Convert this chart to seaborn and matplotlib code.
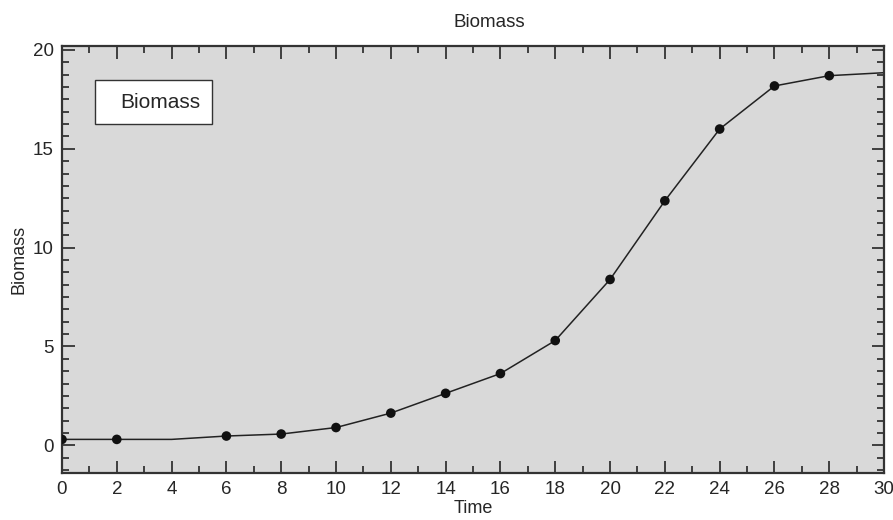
import seaborn as sns
import matplotlib.pyplot as plt
from matplotlib.ticker import MultipleLocator
import pandas as pd

# curve
time = [0, 2, 4, 6, 8, 10, 12, 14, 16, 18, 20, 22, 24, 26, 28, 30]
biomass = [0.3, 0.3, 0.3, 0.47, 0.57, 0.9, 1.63, 2.63, 3.63, 5.3, 8.39, 12.37, 16.0, 18.18, 18.7, 18.85]

# sampled points with markers
obs_time = [0, 2, 6, 8, 10, 12, 14, 16, 18, 20, 22, 24, 26, 28]
obs_biomass = [0.3, 0.3, 0.47, 0.57, 0.9, 1.63, 2.63, 3.63, 5.3, 8.39, 12.37, 16.0, 18.18, 18.7]

curve = pd.DataFrame({"Time": time, "Biomass": biomass})
obs = pd.DataFrame({"Time": obs_time, "Biomass": obs_biomass})

sns.set_style("ticks")
plt.rcParams["font.family"] = ["Liberation Sans", "DejaVu Sans"]

fig = plt.figure(figsize=(8.93, 5.2), dpi=100)
ax = fig.add_axes([0.0694, 0.0904, 0.9206, 0.8211])
ax.set_facecolor("#d9d9d9")

sns.lineplot(data=curve, x="Time", y="Biomass", ax=ax, color="#222222",
             linewidth=1.1, label="Biomass")
sns.scatterplot(data=obs, x="Time", y="Biomass", ax=ax, color="#111111",
                s=48, edgecolor="none", zorder=3)

ax.set_xlim(0, 30)
ax.set_ylim(-1.4, 20.2)
ax.xaxis.set_major_locator(MultipleLocator(2))
ax.xaxis.set_minor_locator(MultipleLocator(1))
ax.yaxis.set_major_locator(MultipleLocator(5))
ax.yaxis.set_minor_locator(MultipleLocator(0.625))
ax.tick_params(which="both", direction="in", top=True, right=True,
               color="#333333", width=1.3)
ax.tick_params(which="major", length=9, labelsize=13.5, pad=6)
ax.tick_params(which="minor", length=5)
for s in ax.spines.values():
    s.set_linewidth(1.6)
    s.set_color("#333333")

ax.set_xlabel("Time", fontsize=13, labelpad=1)
ax.set_ylabel("Biomass", fontsize=13, labelpad=4)
ax.set_title("Biomass", fontsize=13.5, x=0.52, pad=14)

leg = ax.legend(loc="upper left", bbox_to_anchor=(0.04, 0.92), fontsize=15,
                borderaxespad=0, handlelength=0.6, handletextpad=0,
                borderpad=0.6, fancybox=False, framealpha=1,
                edgecolor="#333333")
leg.get_frame().set_linewidth(1.0)
for h in leg.legend_handles:
    h.set_visible(False)

plt.savefig("out.png", dpi=100)
